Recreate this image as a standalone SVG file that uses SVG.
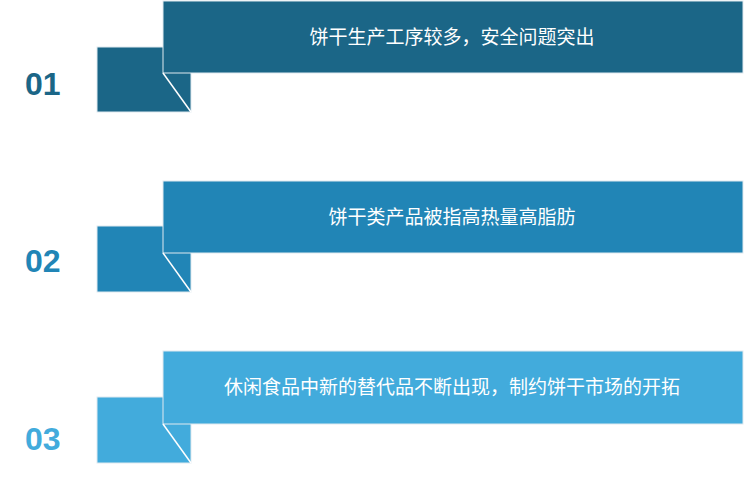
<svg xmlns="http://www.w3.org/2000/svg" width="750" height="484" viewBox="0 0 750 484">
<style>
.num{font-family:"Liberation Sans",sans-serif;font-weight:bold;font-size:32px}
.t{font-family:"Noto Sans CJK SC","Noto Sans",sans-serif;font-size:19px;fill:#fff}
.edge{stroke:#fff;stroke-width:1.5;fill:none}
.e{stroke:#dfe9ef;stroke-width:1}
</style>
<rect width="750" height="484" fill="#fff"/>
<g id="item1">
<rect x="97" y="47" width="94" height="65" fill="#1b6687" class="e"/>
<rect x="163" y="1" width="580" height="72" fill="#1b6687" class="e"/>
<line x1="163" y1="73" x2="191" y2="112" class="edge"/>
<text x="25" y="95" class="num" fill="#1b6687">01</text>
<text x="452" y="44" class="t" text-anchor="middle">饼干生产工序较多，安全问题突出</text>
</g>
<g id="item2">
<rect x="97" y="226" width="94" height="66" fill="#2185b6" class="e"/>
<rect x="163" y="181" width="580" height="72" fill="#2185b6" class="e"/>
<line x1="163" y1="253" x2="191" y2="292" class="edge"/>
<text x="25" y="272" class="num" fill="#2185b6">02</text>
<text x="452" y="224" class="t" text-anchor="middle">饼干类产品被指高热量高脂肪</text>
</g>
<g id="item3">
<rect x="97" y="397" width="94" height="66" fill="#42abdc" class="e"/>
<rect x="163" y="351" width="580" height="73" fill="#42abdc" class="e"/>
<line x1="163" y1="424" x2="191" y2="463" class="edge"/>
<text x="25" y="450" class="num" fill="#42abdc">03</text>
<text x="452" y="394" class="t" text-anchor="middle">休闲食品中新的替代品不断出现，制约饼干市场的开拓</text>
</g>
<g id="connectors"></g>
</svg>
